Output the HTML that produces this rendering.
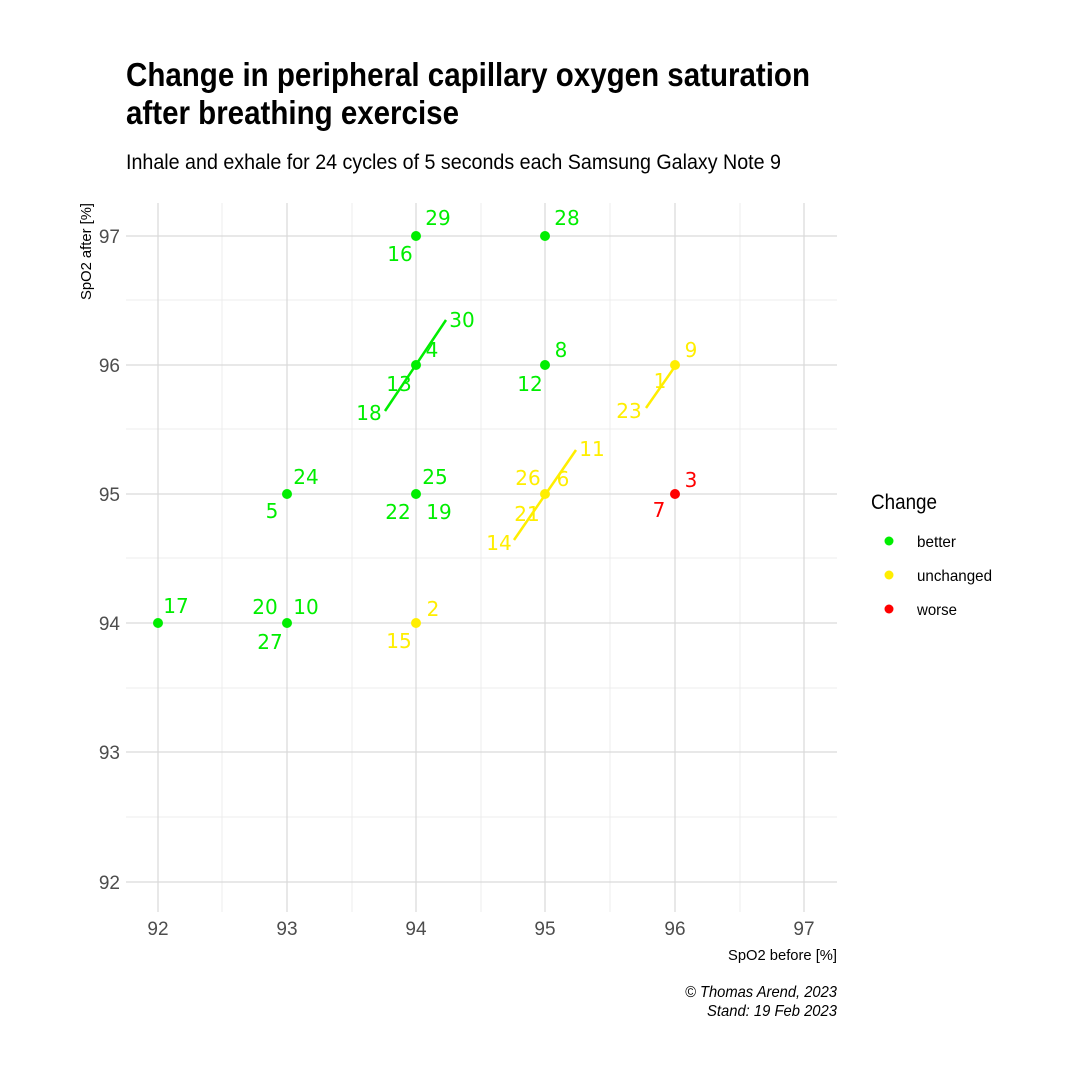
<!DOCTYPE html>
<html><head><meta charset="utf-8"><style>
body{margin:0;background:#fff;width:1080px;height:1080px;overflow:hidden}
svg{display:block}
.t{font-family:"Liberation Sans Narrow","Liberation Sans",sans-serif}
.pl{font-family:"DejaVu Sans","Liberation Sans",sans-serif;font-size:20px;text-anchor:middle;dominant-baseline:central}
.g{fill:#00ee00}.y{fill:#ffee00}.r{fill:#ff0000}
</style></head><body>
<svg width="1080" height="1080" xmlns="http://www.w3.org/2000/svg">
<text class="t" x="126" y="86" font-size="33" font-weight="bold" textLength="684" lengthAdjust="spacingAndGlyphs">Change in peripheral capillary oxygen saturation</text>
<text class="t" x="126" y="124" font-size="33" font-weight="bold" textLength="333" lengthAdjust="spacingAndGlyphs">after breathing exercise</text>
<text class="t" x="126" y="169" font-size="21" textLength="655" lengthAdjust="spacingAndGlyphs">Inhale and exhale for 24 cycles of 5 seconds each Samsung Galaxy Note 9</text>
<g stroke="#ececec" stroke-width="1">
<line x1="222" y1="203" x2="222" y2="912"/><line x1="352" y1="203" x2="352" y2="912"/><line x1="481" y1="203" x2="481" y2="912"/><line x1="610" y1="203" x2="610" y2="912"/><line x1="740" y1="203" x2="740" y2="912"/>
<line x1="126" y1="300" x2="837" y2="300"/><line x1="126" y1="429" x2="837" y2="429"/><line x1="126" y1="558" x2="837" y2="558"/><line x1="126" y1="688" x2="837" y2="688"/><line x1="126" y1="817" x2="837" y2="817"/>
</g>
<g stroke="#d9d9d9" stroke-width="1.2">
<line x1="158" y1="203" x2="158" y2="912"/><line x1="287" y1="203" x2="287" y2="912"/><line x1="416" y1="203" x2="416" y2="912"/><line x1="545" y1="203" x2="545" y2="912"/><line x1="675" y1="203" x2="675" y2="912"/><line x1="804" y1="203" x2="804" y2="912"/>
<line x1="126" y1="236" x2="837" y2="236"/><line x1="126" y1="365" x2="837" y2="365"/><line x1="126" y1="494" x2="837" y2="494"/><line x1="126" y1="623" x2="837" y2="623"/><line x1="126" y1="752" x2="837" y2="752"/><line x1="126" y1="882" x2="837" y2="882"/>
</g>
<g class="t" font-size="19" fill="#4d4d4d" text-anchor="middle">
<text x="158" y="935">92</text><text x="287" y="935">93</text><text x="416" y="935">94</text><text x="545" y="935">95</text><text x="675" y="935">96</text><text x="804" y="935">97</text>
</g>
<g class="t" font-size="19" fill="#4d4d4d" text-anchor="end">
<text x="120" y="243">97</text><text x="120" y="372">96</text><text x="120" y="501">95</text><text x="120" y="630">94</text><text x="120" y="759">93</text><text x="120" y="889">92</text>
</g>
<text class="t" x="728" y="960" font-size="15" textLength="109" lengthAdjust="spacingAndGlyphs">SpO2 before [%]</text>
<text class="t" transform="translate(91,300) rotate(-90)" font-size="15" textLength="97" lengthAdjust="spacingAndGlyphs">SpO2 after [%]</text>
<line x1="446" y1="320" x2="385" y2="411" stroke="#00ee00" stroke-width="2.5"/>
<line x1="646" y1="408" x2="676" y2="365" stroke="#ffee00" stroke-width="2.5"/>
<line x1="576" y1="450" x2="514" y2="540" stroke="#ffee00" stroke-width="2.5"/>
<g class="g"><circle cx="416" cy="236" r="5"/><circle cx="545" cy="236" r="5"/><circle cx="416" cy="365" r="5"/><circle cx="545" cy="365" r="5"/><circle cx="287" cy="494" r="5"/><circle cx="416" cy="494" r="5"/><circle cx="158" cy="623" r="5"/><circle cx="287" cy="623" r="5"/></g>
<g class="y"><circle cx="675" cy="365" r="5"/><circle cx="545" cy="494" r="5"/><circle cx="416" cy="623" r="5"/></g>
<circle class="r" cx="675" cy="494" r="5"/>
<g class="pl g">
<text x="438" y="218">29</text><text x="400" y="254">16</text><text x="567" y="218">28</text><text x="462" y="320">30</text><text x="432" y="350">4</text><text x="399" y="384">13</text><text x="369" y="413">18</text><text x="561" y="350">8</text><text x="530" y="384">12</text>
<text x="306" y="477">24</text><text x="272" y="511">5</text><text x="435" y="477">25</text><text x="398" y="512">22</text><text x="439" y="512">19</text>
<text x="176" y="606">17</text><text x="265" y="607">20</text><text x="306" y="607">10</text><text x="270" y="642">27</text>
</g>
<g class="pl y">
<text x="691" y="350">9</text><text x="660" y="381">1</text><text x="629" y="411">23</text><text x="592" y="449">11</text><text x="528" y="478">26</text><text x="563" y="479">6</text><text x="527" y="514">21</text><text x="499" y="543">14</text><text x="433" y="609">2</text><text x="399" y="641">15</text>
</g>
<g class="pl r"><text x="691" y="480">3</text><text x="659" y="510">7</text></g>
<text class="t" x="871" y="509" font-size="21" textLength="66" lengthAdjust="spacingAndGlyphs">Change</text>
<circle class="g" cx="889" cy="541" r="4.5"/><text class="t" x="917" y="547" font-size="16" textLength="39" lengthAdjust="spacingAndGlyphs">better</text>
<circle class="y" cx="889" cy="575" r="4.5"/><text class="t" x="917" y="581" font-size="16" textLength="75" lengthAdjust="spacingAndGlyphs">unchanged</text>
<circle class="r" cx="889" cy="609" r="4.5"/><text class="t" x="917" y="615" font-size="16" textLength="40" lengthAdjust="spacingAndGlyphs">worse</text>
<text class="t" x="685" y="997" font-size="16" font-style="italic" textLength="152" lengthAdjust="spacingAndGlyphs">© Thomas Arend, 2023</text>
<text class="t" x="707" y="1016" font-size="16" font-style="italic" textLength="130" lengthAdjust="spacingAndGlyphs">Stand: 19 Feb 2023</text>
</svg>
</body></html>
